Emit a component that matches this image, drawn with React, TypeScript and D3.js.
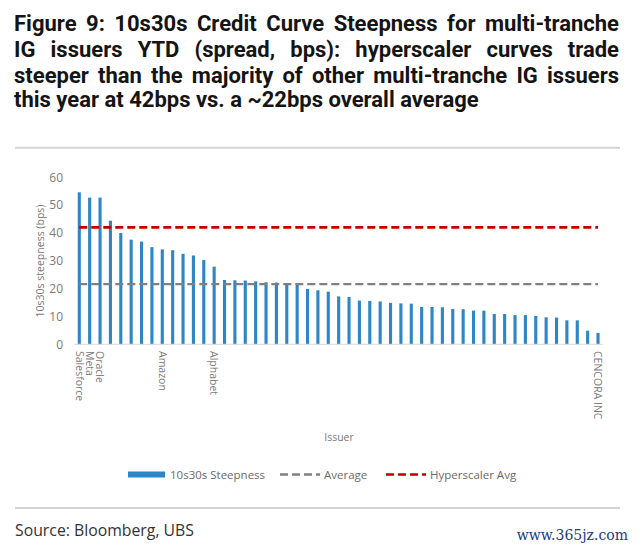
import React, { useEffect, useRef } from "react";
import * as d3 from "d3";

const titleLines = [
  "Figure 9: 10s30s Credit Curve Steepness for multi-tranche",
  "IG issuers YTD (spread, bps): hyperscaler curves trade",
  "steeper than the majority of other multi-tranche IG issuers",
  "this year at 42bps vs. a ~22bps overall average",
];

const issuers = [
  "Salesforce", "Meta", "Oracle", "", "", "", "", "", "Amazon", "",
  "", "", "", "Alphabet", "", "", "", "", "", "",
  "", "", "", "", "", "", "", "", "", "",
  "", "", "", "", "", "", "", "", "", "",
  "", "", "", "", "", "", "", "", "", "",
  "CENCORA INC",
];

const steepness = [
  54.6, 52.7, 52.7, 44.4, 40.0, 37.6, 36.9, 34.9, 34.1, 33.8,
  32.5, 31.9, 30.3, 27.9, 23.1, 23.0, 22.9, 22.6, 22.3, 22.2,
  21.8, 21.6, 19.9, 19.4, 18.9, 17.2, 17.0, 15.7, 15.6, 15.4,
  14.9, 14.7, 14.6, 13.4, 13.4, 13.3, 12.7, 12.6, 12.1, 12.1,
  10.9, 10.9, 10.5, 10.5, 10.2, 9.7, 9.6, 8.6, 8.6, 4.9,
  4.1,
];

const averageLevel = 21.6;
const hyperscalerAvg = 42;
const yTicks = [0, 10, 20, 30, 40, 50, 60];

const seriesNames = ["10s30s Steepness", "Average", "Hyperscaler Avg"];

const BLUE = "#2d86c7";
const GRAY_LINE = "#808080";
const RED = "#c00000";
const TEXT_GRAY = "#7a7a7a";
const CHART_FONT = "'Open Sans', 'Noto Sans', sans-serif";

export default function App() {
  const ref = useRef<SVGSVGElement>(null);

  useEffect(() => {
    const svg = d3.select(ref.current as SVGSVGElement);
    svg.selectAll("*").remove();
    const W = 640;
    const H = 551;
    svg.append("rect").attr("width", W).attr("height", H).attr("fill", "#fff");

    // ---- Title (justified) ----
    const tx0 = 14;
    const tx1 = 619;
    const baselines = [30.5, 56.5, 82.5, 107];
    const tg = svg
      .append("g")
      .attr("font-family", "Roboto, 'Open Sans', sans-serif")
      .attr("font-weight", 700)
      .attr("fill", "#141414");
    const probe = tg.append("text").attr("font-size", 20).text(titleLines[3]);
    const pw = (probe.node() as SVGTextElement).getComputedTextLength();
    probe.remove();
    const fs = Math.max(16, Math.min(22, (20 * 484) / pw));
    titleLines.forEach((line, i) => {
      const t = tg
        .append("text")
        .attr("x", tx0)
        .attr("y", baselines[i])
        .attr("font-size", fs)
        .text(line);
      if (i < 3) {
        const nw = (t.node() as SVGTextElement).getComputedTextLength();
        const spaces = (line.match(/ /g) || []).length;
        if (spaces > 0) t.attr("word-spacing", (tx1 - tx0 - nw) / spaces);
      }
    });

    // separators
    [147.7, 508].forEach((yy) => {
      svg
        .append("line")
        .attr("x1", 15)
        .attr("x2", 620)
        .attr("y1", yy)
        .attr("y2", yy)
        .attr("stroke", "#d3d3d3")
        .attr("stroke-width", 2);
    });

    // ---- Chart ----
    const idx = d3.range(steepness.length);
    const x = d3
      .scaleBand<number>()
      .domain(idx)
      .range([74.1, 603.2])
      .paddingInner(0.7)
      .paddingOuter(0.35);
    const y = d3.scaleLinear().domain([0, 60]).range([344.3, 177.3]);
    const bw = x.bandwidth();
    const cx = (i: number) => (x(i) as number) + bw / 2;

    // y tick labels
    svg
      .append("g")
      .attr("font-family", CHART_FONT)
      .attr("font-size", 12)
      .attr("fill", TEXT_GRAY)
      .selectAll("text")
      .data(yTicks)
      .join("text")
      .attr("x", 63)
      .attr("y", (d) => y(d))
      .attr("dy", "0.35em")
      .attr("text-anchor", "end")
      .text((d) => String(d));

    // y title
    svg
      .append("text")
      .attr("transform", `translate(40,261) rotate(-90)`)
      .attr("dy", "0.35em")
      .attr("text-anchor", "middle")
      .attr("font-family", CHART_FONT)
      .attr("font-size", 10.5)
      .attr("fill", TEXT_GRAY)
      .text("10s30s steepness (bps)");

    // bars
    svg
      .append("g")
      .selectAll("rect")
      .data(steepness)
      .join("rect")
      .attr("x", (_, i) => x(i) as number)
      .attr("width", bw)
      .attr("y", (d) => y(d))
      .attr("height", (d) => y(0) - y(d))
      .attr("fill", BLUE);

    // baseline
    svg
      .append("line")
      .attr("x1", x.range()[0])
      .attr("x2", x.range()[1])
      .attr("y1", y(0))
      .attr("y2", y(0))
      .attr("stroke", "#d9d9d9")
      .attr("stroke-width", 1);

    // reference lines
    const lineGen = d3
      .line<[number, number]>()
      .x((d) => cx(d[0]))
      .y((d) => y(d[1]));
    const last = steepness.length - 1;
    svg
      .append("path")
      .attr("d", lineGen([[0, averageLevel], [last, averageLevel]]) as string)
      .attr("fill", "none")
      .attr("stroke", GRAY_LINE)
      .attr("stroke-width", 2.3)
      .attr("stroke-dasharray", "8,4");
    svg
      .append("path")
      .attr("d", lineGen([[0, hyperscalerAvg], [last, hyperscalerAvg]]) as string)
      .attr("fill", "none")
      .attr("stroke", RED)
      .attr("stroke-width", 2.6)
      .attr("stroke-dasharray", "8,4");

    // x labels
    svg
      .append("g")
      .attr("font-family", CHART_FONT)
      .attr("font-size", 10.5)
      .attr("fill", TEXT_GRAY)
      .selectAll("text")
      .data(idx.filter((i) => issuers[i] !== ""))
      .join("text")
      .attr("transform", (i) => `translate(${cx(i)},351) rotate(90)`)
      .attr("dy", "0.35em")
      .attr("text-anchor", "start")
      .text((i) => issuers[i]);

    // x title
    svg
      .append("text")
      .attr("x", 339)
      .attr("y", 437)
      .attr("dy", "0.35em")
      .attr("text-anchor", "middle")
      .attr("font-family", CHART_FONT)
      .attr("font-size", 10.5)
      .attr("fill", TEXT_GRAY)
      .text("Issuer");

    // legend
    const ly = 474.5;
    const lg = svg.append("g").attr("font-family", CHART_FONT).attr("font-size", 11.5).attr("fill", "#6a6a6a");
    lg.append("rect").attr("x", 128).attr("y", ly - 3).attr("width", 37).attr("height", 6).attr("fill", BLUE);
    lg.append("text").attr("x", 170).attr("y", ly).attr("dy", "0.35em").text(seriesNames[0]);
    lg.append("line").attr("x1", 280).attr("x2", 320).attr("y1", ly).attr("y2", ly)
      .attr("stroke", GRAY_LINE).attr("stroke-width", 2.3).attr("stroke-dasharray", "8,4");
    lg.append("text").attr("x", 324).attr("y", ly).attr("dy", "0.35em").text(seriesNames[1]);
    lg.append("line").attr("x1", 386).attr("x2", 426).attr("y1", ly).attr("y2", ly)
      .attr("stroke", RED).attr("stroke-width", 2.6).attr("stroke-dasharray", "8,4");
    lg.append("text").attr("x", 430).attr("y", ly).attr("dy", "0.35em").text(seriesNames[2]);

    // source
    svg
      .append("text")
      .attr("x", 15)
      .attr("y", 535.5)
      .attr("font-family", CHART_FONT)
      .attr("font-size", 15.8)
      .attr("fill", "#333")
      .text("Source: Bloomberg, UBS");

    // watermark
    svg
      .append("text")
      .attr("x", 628)
      .attr("y", 540)
      .attr("text-anchor", "end")
      .attr("font-family", "'DejaVu Serif', serif")
      .attr("font-size", 14)
      .attr("fill", "#1d3c78")
      .text("www.365jz.com");
  }, []);

  return (
    <svg
      ref={ref}
      width={640}
      height={551}
      style={{ position: "absolute", left: 0, top: 0, display: "block" }}
    />
  );
}
